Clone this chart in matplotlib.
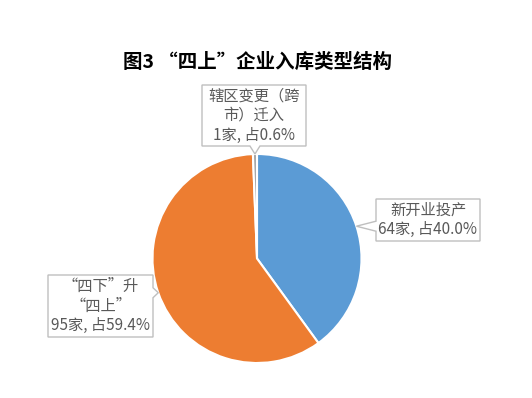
import numpy as np
import matplotlib
matplotlib.use("Agg")
import matplotlib.pyplot as plt
from matplotlib.patches import Polygon

plt.rcParams['font.family'] = ['Noto Sans CJK SC', 'DejaVu Sans']

# 入库类型及家数
categories = ['新开业投产', '“四下”升“四上”', '辖区变更（跨市）迁入']
counts = [64, 95, 1]
shares = [40.0, 59.4, 0.6]
label_texts = ['新开业投产\n64家, 占40.0%',
               '“四下”升\n“四上”\n95家, 占59.4%',
               '辖区变更（跨\n市）迁入\n1家, 占0.6%']
colors = ['#5B9BD5', '#ED7D31', '#A5A5A5']

W, H = 532, 398
fig = plt.figure(figsize=(W / 100, H / 100), dpi=100)
ax = fig.add_axes([0, 0, 1, 1])
ax.set_xlim(0, W)
ax.set_ylim(0, H)
ax.axis('off')

center = (257, 139.5)
radius = 104.5
wedges, _ = ax.pie(counts, colors=colors, startangle=90, counterclock=False,
                   center=center, radius=radius, frame=True,
                   wedgeprops=dict(edgecolor='white', linewidth=1.5))
ax.set_xlim(0, W)
ax.set_ylim(0, H)
ax.axis('off')

# label boxes: centre x, centre y, width, height
boxes = [(428, 178, 104, 42), (100.5, 92, 105, 62), (254, 282.5, 104, 61)]


def callout(box, tip, base=10):
    cx, cy, w, h = box
    x0, x1, y0, y1 = cx - w / 2, cx + w / 2, cy - h / 2, cy + h / 2
    tx, ty = tip
    if tx < x0:
        b = np.clip(ty, y0 + base, y1 - base)
        pts = [(x0, y0), (x1, y0), (x1, y1), (x0, y1),
               (x0, b + base / 2), (tx, ty), (x0, b - base / 2)]
    elif tx > x1:
        b = np.clip(ty, y0 + base, y1 - base)
        pts = [(x0, y0), (x1, y0), (x1, b - base / 2), (tx, ty),
               (x1, b + base / 2), (x1, y1), (x0, y1)]
    else:
        b = np.clip(tx, x0 + base, x1 - base)
        pts = [(x0, y0), (b - base / 2, y0), (tx, ty), (b + base / 2, y0),
               (x1, y0), (x1, y1), (x0, y1)]
    return Polygon(pts, closed=True, facecolor='white', edgecolor='#BFBFBF',
                   linewidth=1, zorder=3)


for w, box, txt in zip(wedges, boxes, label_texts):
    mid = np.radians((w.theta1 + w.theta2) / 2)
    tip = (center[0] + radius * np.cos(mid), center[1] + radius * np.sin(mid))
    ax.add_patch(callout(box, tip))
    ax.text(box[0], box[1], txt, ha='center', va='center', fontsize=11,
            color='#595959', linespacing=1.2, zorder=4)

ax.text(257.5, 336, '图3 “四上”企业入库类型结构', ha='center', va='center',
        fontsize=14, fontweight='bold', color='black')

fig.savefig('out.png', dpi=100)
